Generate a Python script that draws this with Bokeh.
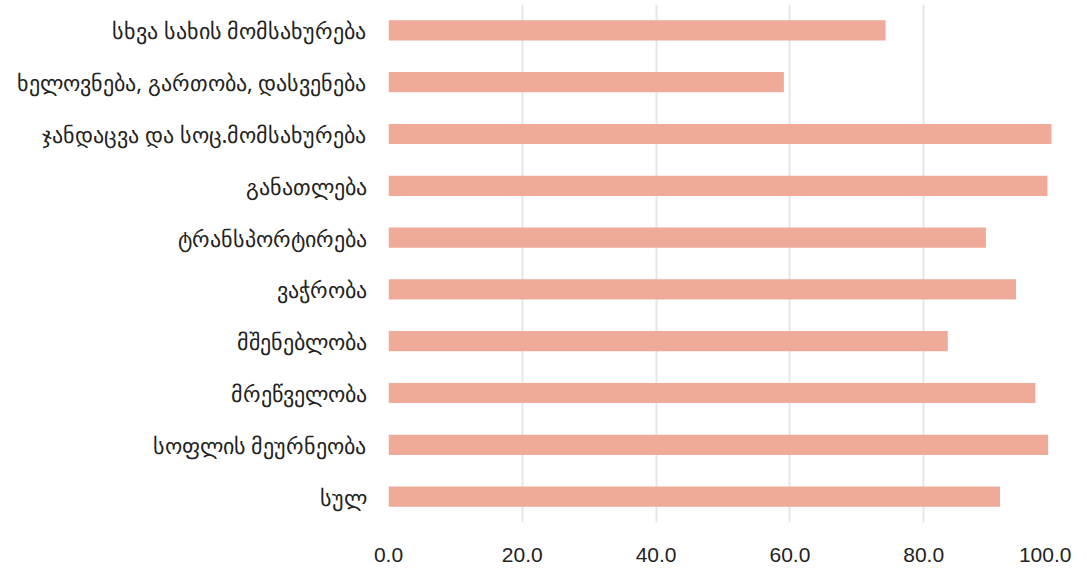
from bokeh.plotting import figure
from bokeh.models import ColumnDataSource, FactorRange, NumeralTickFormatter, FixedTicker
from bokeh.embed import file_html
from bokeh.resources import INLINE

categories = [
    "სხვა სახის მომსახურება",
    "ხელოვნება, გართობა, დასვენება",
    "ჯანდაცვა და სოც.მომსახურება",
    "განათლება",
    "ტრანსპორტირება",
    "ვაჭრობა",
    "მშენებლობა",
    "მრეწველობა",
    "სოფლის მეურნეობა",
    "სულ",
]
values = [74.3, 59.1, 99.1, 98.5, 89.3, 93.8, 83.6, 96.7, 98.6, 91.4]
x_ticks = [0, 20, 40, 60, 80, 100]

source = ColumnDataSource(dict(cat=categories, val=values))

p = figure(
    width=1071, height=570,
    y_range=FactorRange(factors=list(reversed(categories)), range_padding=0),
    x_range=(0, 100),
    output_backend="svg", toolbar_location=None,
    min_border_left=388, min_border_right=14, min_border_top=4, min_border_bottom=48,
)
p.hbar(y="cat", right="val", left=0, height=0.39, source=source,
       fill_color="#F0AA99", line_color=None)

p.outline_line_color = None
p.ygrid.grid_line_color = None
p.xgrid.grid_line_color = "#E6E6E6"
p.xgrid.grid_line_width = 2

p.xaxis.ticker = FixedTicker(ticks=x_ticks)
p.xaxis.formatter = NumeralTickFormatter(format="0.0")
p.xaxis.axis_line_color = None
p.xaxis.major_tick_line_color = None
p.xaxis.minor_tick_line_color = None
p.xaxis.major_tick_out = 0
p.xaxis.major_label_standoff = 25
p.xaxis.major_label_text_font = "Liberation Sans"
p.xaxis.major_label_text_font_size = "21px"
p.xaxis.major_label_text_color = "#222222"

p.yaxis.axis_line_color = None
p.yaxis.major_tick_line_color = None
p.yaxis.minor_tick_line_color = None
p.yaxis.major_tick_out = 0
p.yaxis.major_label_standoff = 22
p.yaxis.major_label_text_font = "Noto Sans"
p.yaxis.major_label_text_font_size = "22px"
p.yaxis.major_label_text_color = "#222222"

open("out.html", "w").write(file_html(p, INLINE))
